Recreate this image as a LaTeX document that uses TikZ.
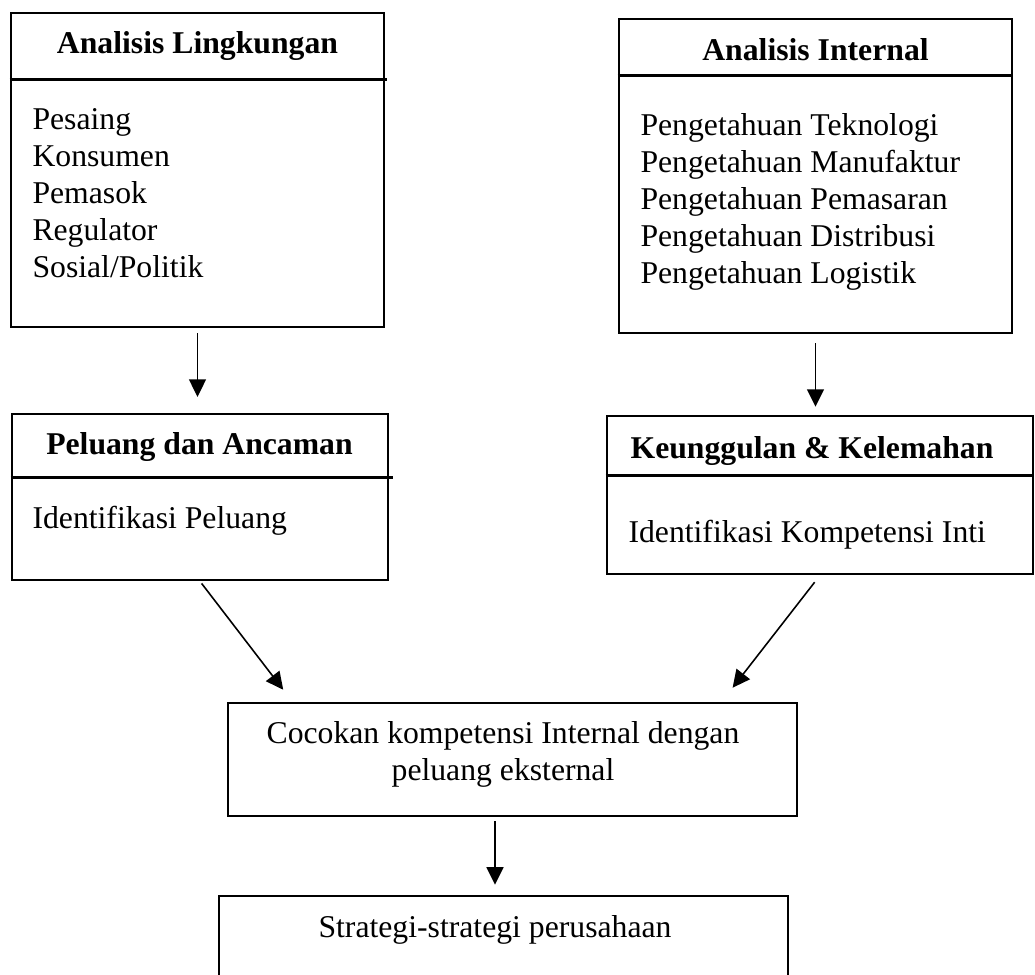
\documentclass[tikz,border=0pt]{standalone}
\usepackage{fontspec}
\setmainfont{Liberation Serif}
\usetikzlibrary{arrows.meta,positioning,fit,calc}
\tikzset{
  arr/.style={-{Triangle[length=6.6pt,width=6.4pt]},line width=0.6pt},
  frame/.style={rectangle,draw,line width=1pt,inner sep=0pt},
  rule/.style={line width=1pt},
  head/.style={anchor=base,inner sep=0pt,font=\fontsize{12}{14}\selectfont\bfseries},
  items/.style={anchor=base west,inner sep=0pt,align=left,font=\fontsize{12}{14}\selectfont},
  txt/.style={anchor=base,inner sep=0pt,align=center,font=\fontsize{12}{14}\selectfont},
}
\begin{document}
\begin{tikzpicture}[x=0.0133cm,y=-0.0133cm]
\useasboundingbox (0,0) rectangle (1035,975);
\clip (0,0) rectangle (1035,975);

% lingkungan (kiri atas)
\node[frame,fit={(11,13) (384,327)}] (lk) {};
\node[head] (lkh) at (197.5,53) {Analisis Lingkungan};
\draw[rule] ($(lk.north west)+(0,68)$) -- ($(lk.north east)+(2,68)$);
% base = baris terakhir
\node[items] (lki) at (32,277) {Pesaing\\Konsumen\\Pemasok\\Regulator\\Sosial/Politik};

% internal (kanan atas)
\node[frame,fit={(619,19) (1012,333)}] (it) {};
\node[head] (ith) at (815.5,60) {Analisis Internal};
\draw[rule] ($(it.north west)+(0,58)$) -- ($(it.north east)+(0,58)$);
\node[items] (iti) at (640,283) {Pengetahuan Teknologi\\Pengetahuan Manufaktur\\Pengetahuan Pemasaran\\Pengetahuan Distribusi\\Pengetahuan Logistik};

% peluang
\node[frame,fit={(12,414) (388,580)}] (pa) {};
\node[head] (pah) at (199.5,454) {Peluang dan Ancaman};
\draw[rule] ($(pa.north west)+(0,65)$) -- ($(pa.north east)+(4,65)$);
\node[items] (pai) at (32,528) {Identifikasi Peluang};

% keunggulan
\node[frame,fit={(607,416) (1033,574)}] (kk) {};
\node[head] (kkh) at (812,458) {Keunggulan \& Kelemahan};
\draw[rule] ($(kk.north west)+(0,61)$) -- ($(kk.north east)+(0,61)$);
\node[items] (kki) at (628,542) {Identifikasi Kompetensi Inti};

% cocokan + strategi
\node[frame,fit={(228,703) (797,816)}] (ck) {};
\node[txt] (ckt) at (503,780) {Cocokan kompetensi Internal dengan\\peluang eksternal};
\node[frame,fit={(219,896) (788,1000)}] (st) {};
\node[txt] (stt) at (495,937) {Strategi-strategi perusahaan};

\draw[arr,shorten <=1.9pt,shorten >=6pt] (lk.south) -- (lk.south |- pa.north);
\draw[arr,shorten <=3.4pt,shorten >=3pt] (it.south) -- (it.south |- kk.north);
\draw[arr,shorten <=1pt,shorten >=5.7pt] (pa.south) -- ($(ck.north west)!0.115!(ck.north east)$);
\draw[arr,shorten <=3.3pt,shorten >=6.7pt] (kk.south) -- ($(ck.north west)!0.866!(ck.north east)$);
\draw[arr,shorten <=1.5pt,shorten >=3.8pt] (ck.south -| stt) -- (st.north -| stt);
\end{tikzpicture}
\end{document}
